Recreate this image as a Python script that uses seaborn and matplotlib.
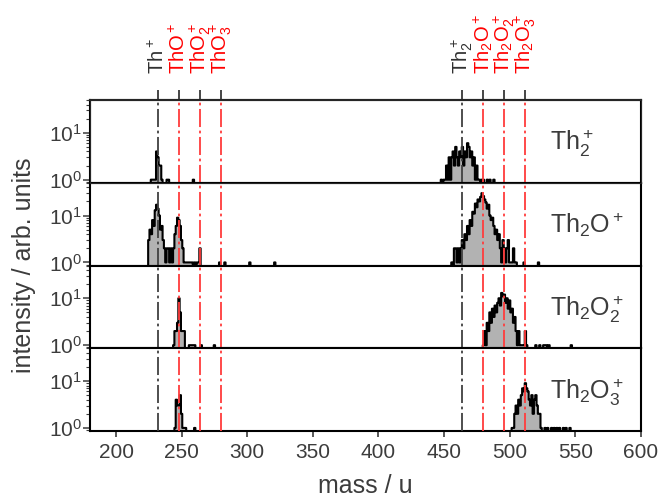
import numpy as np
import pandas as pd
import matplotlib
matplotlib.use("Agg")
import matplotlib.pyplot as plt
import seaborn as sns

# ---------------------------------------------------------------------------
# Mass spectra of the Th2On+ clusters, counts per 1 u bin.
# Each cluster is given as contiguous runs (start mass + counts) plus
# isolated single counts.
# ---------------------------------------------------------------------------
th2_lo_start = 227
th2_lo = [1, 1, 1, 1, 4, 3, 2, 2, 1, 0, 0, 0, 1, 1]
th2_hi_start = 448
th2_hi = [1, 0, 1, 1, 2, 1, 3, 1, 3, 4, 2, 5, 3, 2, 4, 3, 5, 2, 4, 3,
          6, 5, 3, 4, 2, 3, 1, 2, 1, 1, 0, 1, 1, 0, 0, 1, 0, 1, 0, 0, 1]
th2_single = [259]

th2o_lo_start = 225
th2o_lo = [3, 5, 4, 8, 6, 13, 17, 14, 10, 5, 6, 3, 2, 1, 2, 2, 1, 2, 1, 2,
           4, 6, 9, 8, 6, 3, 2, 1, 1, 1, 1, 1, 1, 1, 0, 1, 0, 1, 1, 2]
th2o_hi_start = 456
th2o_hi = [1, 0, 2, 2, 1, 2, 1, 2, 3, 2, 4, 3, 6, 4, 8, 6, 12, 11, 18, 15,
           22, 20, 25, 30, 26, 22, 19, 14, 17, 10, 8, 9, 6, 4, 5, 3, 4, 2, 1, 3,
           2, 1, 2, 3, 1, 1, 1, 2, 1, 1]
th2o_single = [279, 283, 302, 321, 511, 522]

th2o2_lo_start = 244
th2o2_lo = [1, 2, 2, 3, 10, 5, 2, 2, 2]
th2o2_hi_start = 480
th2o2_hi = [1, 2, 1, 3, 2, 5, 3, 6, 4, 7, 5, 8, 10, 7, 13, 11, 12, 8, 10, 6,
            9, 5, 6, 3, 4, 2, 1, 2, 1, 1, 1, 1, 2, 1]
th2o2_single = [256, 257, 258, 259, 260, 265, 275, 520, 523, 526, 527, 528,
                530, 547]

th2o3_lo_start = 245
th2o3_lo = [1, 4, 3, 3, 5, 2, 1, 1, 1]
th2o3_hi_start = 502
th2o3_hi = [1, 1, 2, 3, 2, 4, 3, 5, 7, 6, 9, 7, 6, 4, 3, 5, 2, 4, 5, 3,
            2, 2, 1]
th2o3_single = [260, 527, 529, 532, 534, 536, 538, 541, 543, 546]

panel_names = [r"Th$_2^+$", r"Th$_2$O$^+$", r"Th$_2$O$_2^+$", r"Th$_2$O$_3^+$"]

# reference masses of Th+/ThOn+ and Th2+/Th2On+
ref_masses = [232, 248, 264, 280, 464, 480, 496, 512]
ref_labels = [r"Th$^+$", r"ThO$^+$", r"ThO$_2^+$", r"ThO$_3^+$",
              r"Th$_2^+$", r"Th$_2$O$^+$", r"Th$_2$O$_2^+$", r"Th$_2$O$_3^+$"]
ref_is_metal = [True, False, False, False, True, False, False, False]

mass_axis = np.arange(220, 561)


def build(runs, singles):
    counts = np.zeros(len(mass_axis))
    for start, vals in runs:
        idx = start - mass_axis[0]
        counts[idx:idx + len(vals)] += vals
    for m in singles:
        counts[m - mass_axis[0]] += 1
    return pd.DataFrame({"mass": mass_axis.astype(float), "counts": counts})


spectra = [
    build([(th2_lo_start, th2_lo), (th2_hi_start, th2_hi)], th2_single),
    build([(th2o_lo_start, th2o_lo), (th2o_hi_start, th2o_hi)], th2o_single),
    build([(th2o2_lo_start, th2o2_lo), (th2o2_hi_start, th2o2_hi)], th2o2_single),
    build([(th2o3_lo_start, th2o3_lo), (th2o3_hi_start, th2o3_hi)], th2o3_single),
]

# ---------------------------------------------------------------------------
sns.set_style("ticks")
plt.rcParams["font.family"] = ["Liberation Sans", "DejaVu Sans"]
plt.rcParams["mathtext.fontset"] = "custom"
plt.rcParams["mathtext.rm"] = "Liberation Sans"
plt.rcParams["mathtext.it"] = "Liberation Sans:italic"
plt.rcParams["mathtext.bf"] = "Liberation Sans:bold"
plt.rcParams["mathtext.sf"] = "Liberation Sans"

text_grey = "#3c3c3c"
red = "#ff3c3c"
metal_grey = "#404040"

fig, axes = plt.subplots(4, 1, figsize=(6.6, 5.0), dpi=100, sharex=True, sharey=True)
fig.subplots_adjust(left=0.136, right=0.971, top=0.8, bottom=0.138, hspace=0)

for ax, df, name in zip(axes, spectra, panel_names):
    sns.histplot(data=df, x="mass", weights="counts", binwidth=1,
                 binrange=(mass_axis[0] - 0.5, mass_axis[-1] + 0.5),
                 element="step", fill=True, color="#b2b2b2", alpha=1,
                 edgecolor="black", linewidth=1.5, ax=ax)
    ax.set_yscale("log")
    for m, metal in zip(ref_masses, ref_is_metal):
        ax.axvline(m, color=metal_grey if metal else red, lw=1.3,
                   dashes=(10, 2, 1.5, 2), zorder=5)
    ax.text(0.835, 0.39, name, transform=ax.transAxes, ha="left",
            va="baseline", fontsize=18, color=text_grey)
    ax.set_xlabel("")
    ax.set_ylabel("")
    for side in ["top", "bottom", "left", "right"]:
        ax.spines[side].set_visible(True)
        ax.spines[side].set_linewidth(1.5)
        ax.spines[side].set_color("black")
    ax.tick_params(axis="x", which="both", bottom=True, top=False,
                   direction="out", length=4, width=1.2, color=text_grey,
                   labelsize=15, labelcolor=text_grey, pad=5)
    ax.tick_params(axis="y", which="major", left=True, right=False,
                   direction="out", length=5, width=1.1, color=text_grey,
                   labelsize=15, labelcolor=text_grey, pad=0.5)
    ax.tick_params(axis="y", which="minor", left=True, right=False,
                   direction="out", length=3, width=0.8, color=text_grey)

axes[0].set_xlim(180, 600)
axes[0].set_ylim(0.86, 50)
axes[0].set_xticks(np.arange(200, 601, 50))

axes[-1].set_xlabel("mass / u", fontsize=18, color=text_grey, labelpad=8)
fig.text(0.037, 0.469, "intensity / arb. units", rotation=90, ha="center",
         va="center", fontsize=18, color=text_grey)

# species markers along the top edge
top = axes[0].twiny()
top.set_xlim(180, 600)
top.set_xticks(ref_masses)
top.set_xticklabels(ref_labels, rotation=90, fontsize=14.5)
top.tick_params(axis="x", direction="out", length=7.5, width=1.2, pad=11)
for tick, lab, metal in zip(top.xaxis.get_major_ticks(), top.get_xticklabels(),
                            ref_is_metal):
    c = metal_grey if metal else red
    tick.tick2line.set_color(c)
    lab.set_color("#303030" if metal else "red")
top.spines["top"].set_linewidth(1.5)

fig.savefig("out.png", dpi=100)
